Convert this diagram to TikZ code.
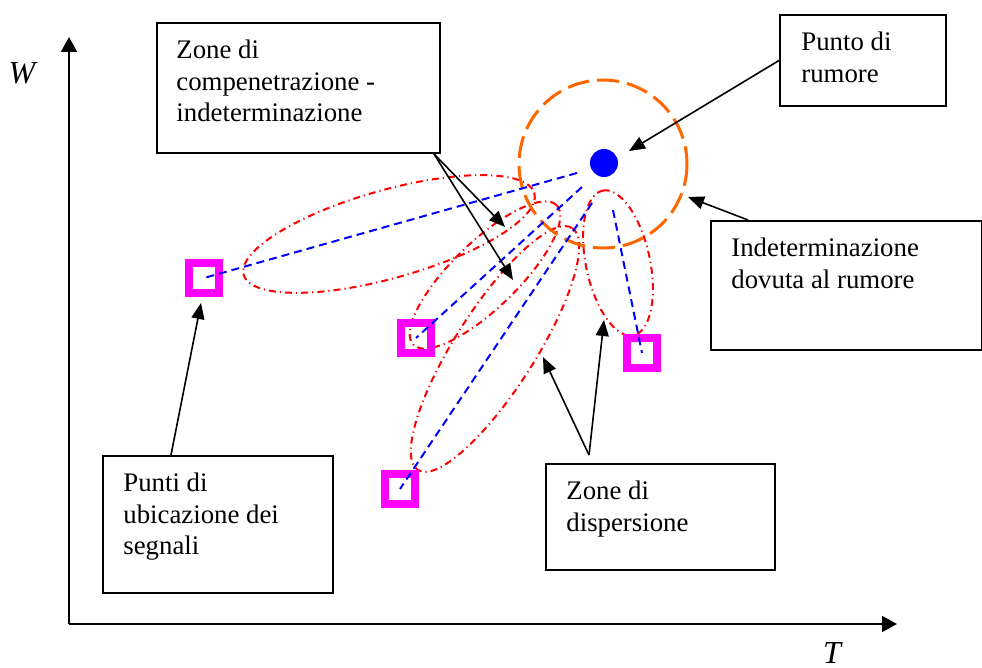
\documentclass[tikz,border=0pt]{standalone}
\usepackage{fontspec}
\setmainfont{Liberation Serif}
\usepackage{tikz}
\usetikzlibrary{arrows.meta,positioning}
\definecolor{zoneRed}{RGB}{255,0,0}
\definecolor{rayBlue}{RGB}{0,0,255}
\definecolor{ringOrange}{RGB}{255,102,0}
\definecolor{spotMagenta}{RGB}{255,0,255}

\begin{document}
\begin{tikzpicture}[x=0.5pt,y=-0.5pt,
  note/.style={draw, line width=1pt, anchor=north west, inner sep=0pt},
  notetext/.style={align=left, inner sep=0pt, font=\fontsize{13.4pt}{15.75pt}\selectfont},
  axislabel/.style={inner sep=0pt, font=\fontsize{16pt}{19pt}\selectfont\itshape},
  axis/.style={line width=1pt, -{Triangle[length=7.5pt,width=8pt]}},
  pointer/.style={line width=0.8pt, -{Triangle[length=8pt,width=6.5pt]}},
  spot/.style={draw=spotMagenta, line width=4pt, minimum size=15pt, inner sep=0pt},
  ray/.style={rayBlue, line width=1pt, dash pattern=on 4pt off 2.5pt},
  zone/.style={zoneRed, line width=1pt, dash pattern=on 3.5pt off 2pt on 0.6pt off 2pt}]
\useasboundingbox (0,0) rectangle (982,668);

\coordinate (origin) at (69,624);
\coordinate (wEnd) at (69,37);
\coordinate (tEnd) at (897,624);
\draw[axis] (origin) -- (wEnd);
\draw[axis] (origin) -- (tEnd);
\node[axislabel] (wLabel) at (22,73) {W};
\node[axislabel] (tLabel) at (832,653) {T};

\draw[zone, rotate around={15.7:(389,234)}] (389,234) ellipse (151 and 44);
\draw[zone, rotate around={44.2:(485,275)}] (485,275) ellipse (100 and 33);
\draw[zone, rotate around={57.5:(495,349)}] (495,349) ellipse (143.5 and 40);
\draw[zone, rotate around={102:(618,263)}] (618,263) ellipse (74 and 32);

\node[circle, fill=rayBlue, minimum size=14pt, inner sep=0pt] (noise) at (604,163) {};
\draw[ringOrange, line width=1.5pt, dash pattern=on 11pt off 4pt] (603,164) circle (84);

\node[spot] (sA) at (204,278) {};
\node[spot] (sB) at (416,338) {};
\node[spot] (sC) at (400,489) {};
\node[spot] (sD) at (642,353) {};

\coordinate (rA) at (577,173);
\coordinate (rB) at (582,187);
\coordinate (rC) at (592,203);
\coordinate (rD) at (613,210);
\draw[ray] (rA) -- (sA.center);
\draw[ray] (rB) -- (sB.center);
\draw[ray] (rC) -- (sC.center);
\draw[ray] (rD) -- (sD.center);

\node[note, minimum width=141.5pt, minimum height=65pt] (zoneBox) at (156,22) {};
\node[notetext, below right=9pt and 10pt of zoneBox.north west] (zoneText)
  {Zone di\\compenetrazione -\\indeterminazione};
\node[note, minimum width=83pt, minimum height=45.5pt] (noiseBox) at (779,14) {};
\node[notetext, below right=9pt and 11pt of noiseBox.north west] (noiseText)
  {Punto di\\rumore};
\node[note, minimum width=135.5pt, minimum height=64.5pt] (ringBox) at (710,220) {};
\node[notetext, below right=9pt and 10.5pt of ringBox.north west] (ringText)
  {Indeterminazione\\dovuta al rumore};
\node[note, minimum width=115pt, minimum height=68.5pt] (spotBox) at (102,455) {};
\node[notetext, below right=9pt and 10.5pt of spotBox.north west] (spotText)
  {Punti di\\ubicazione dei\\segnali};
\node[note, minimum width=114.5pt, minimum height=53pt] (dispBox) at (545,463) {};
\node[notetext, below right=9pt and 10.5pt of dispBox.north west] (dispText)
  {Zone di\\dispersione};

\coordinate (ovA) at (505,227);
\coordinate (ovB) at (513,280);
\coordinate (dotTip) at (629,151);
\coordinate (ringTip) at (688,197);
\coordinate (spotTip) at (201,303);
\coordinate (dispA) at (543,357);
\coordinate (dispB) at (604,320);
\draw[pointer] ([xshift=-3.5pt]zoneBox.south east) -- (ovA);
\draw[pointer] ([xshift=-3.5pt]zoneBox.south east) -- (ovB);
\draw[pointer] (noiseBox.west) -- (dotTip);
\draw[pointer] ([xshift=19pt]ringBox.north west) -- (ringTip);
\draw[pointer] ([xshift=34.5pt]spotBox.north west) -- (spotTip);
\draw[pointer] ([xshift=22pt,yshift=4pt]dispBox.north west) -- (dispA);
\draw[pointer] ([xshift=22pt,yshift=4pt]dispBox.north west) -- (dispB);
\end{tikzpicture}
\end{document}
